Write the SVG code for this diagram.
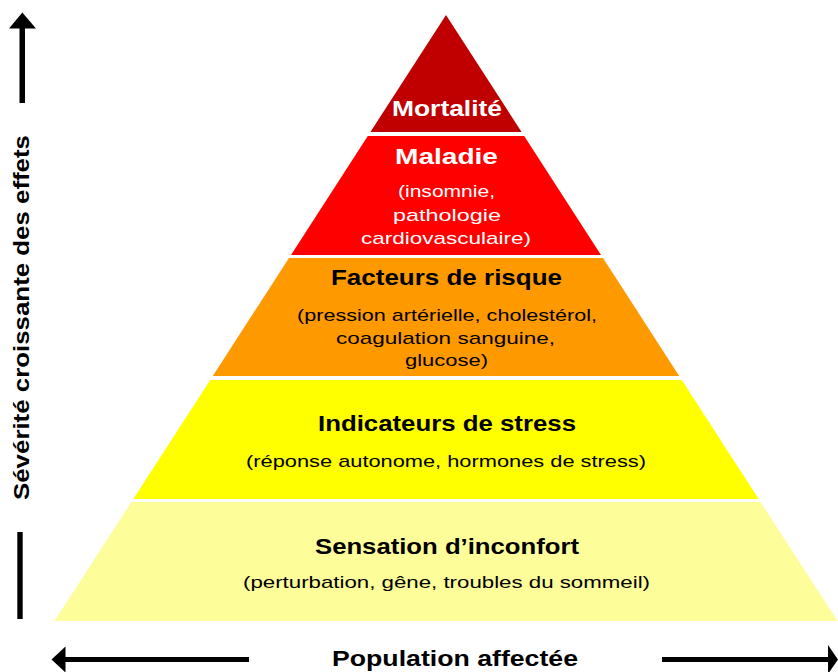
<svg xmlns="http://www.w3.org/2000/svg" width="838" height="672" viewBox="0 0 838 672">
<style>
.t{font-family:"Liberation Sans",Arial,sans-serif;font-weight:bold;font-size:22px;text-anchor:middle}
.s{font-family:"Liberation Sans",Arial,sans-serif;font-size:17px;text-anchor:middle}
.w{fill:#ffffff}
.k{fill:#000000}
.ar{fill:#000000}
</style>
<rect width="838" height="672" fill="#ffffff"/>
<g id="mortalite">
<polygon points="446,15 521.6,132 370.4,132" fill="#C00000"/>
<text class="t w" x="447" y="116" textLength="110" lengthAdjust="spacingAndGlyphs">Mortalité</text>
</g>
<g id="maladie">
<polygon points="367.8,136 524.2,136 601,255 291,255" fill="#FF0000"/>
<text class="t w" x="446.5" y="164" textLength="103" lengthAdjust="spacingAndGlyphs">Maladie</text>
<text class="s w" x="446.5" y="197" textLength="97" lengthAdjust="spacingAndGlyphs">(insomnie,</text>
<text class="s w" x="447" y="221" textLength="108" lengthAdjust="spacingAndGlyphs">pathologie</text>
<text class="s w" x="446" y="244" textLength="170" lengthAdjust="spacingAndGlyphs">cardiovasculaire)</text>
</g>
<g id="facteurs">
<polygon points="289,258 603,258 679.2,376 212.8,376" fill="#FF9900"/>
<text class="t k" x="446.5" y="285" textLength="231" lengthAdjust="spacingAndGlyphs">Facteurs de risque</text>
<text class="s k" x="447" y="321" textLength="300" lengthAdjust="spacingAndGlyphs">(pression artérielle, cholestérol,</text>
<text class="s k" x="445.5" y="344" textLength="219" lengthAdjust="spacingAndGlyphs">coagulation sanguine,</text>
<text class="s k" x="446.5" y="366" textLength="83" lengthAdjust="spacingAndGlyphs">glucose)</text>
</g>
<g id="indicateurs">
<polygon points="210.2,380 681.8,380 758.7,499 133.3,499" fill="#FFFF00"/>
<text class="t k" x="447" y="431" textLength="258" lengthAdjust="spacingAndGlyphs">Indicateurs de stress</text>
<text class="s k" x="446" y="467" textLength="400" lengthAdjust="spacingAndGlyphs">(réponse autonome, hormones de stress)</text>
</g>
<g id="sensation">
<polygon points="131.4,502 760.6,502 837.5,621 54.5,621" fill="#FDFD9A"/>
<text class="t k" x="447" y="554" textLength="264" lengthAdjust="spacingAndGlyphs">Sensation d’inconfort</text>
<text class="s k" x="446.5" y="588" textLength="407" lengthAdjust="spacingAndGlyphs">(perturbation, gêne, troubles du sommeil)</text>
</g>
<g id="connectors">
<rect x="19.5" y="26" width="5.5" height="77" class="ar"/>
<polygon points="22.3,12.5 36,28.5 9,28.5" class="ar"/>
<rect x="17.3" y="532" width="5.4" height="87" class="ar"/>
<rect x="63" y="657" width="186" height="5" class="ar"/>
<polygon points="51.5,659.5 65.5,646.5 65.5,672.5" class="ar"/>
<rect x="662" y="657" width="168" height="5" class="ar"/>
<polygon points="838,659.5 828,645 828,674" class="ar"/>
</g>
<g id="labels">
<text class="t k" x="455" y="666" font-size="21" textLength="246" lengthAdjust="spacingAndGlyphs">Population affectée</text>
<text class="t k" transform="translate(29,317.5) rotate(-90)" x="0" y="0" font-size="21" textLength="365" lengthAdjust="spacingAndGlyphs">Sévérité croissante des effets</text>
</g>
</svg>
